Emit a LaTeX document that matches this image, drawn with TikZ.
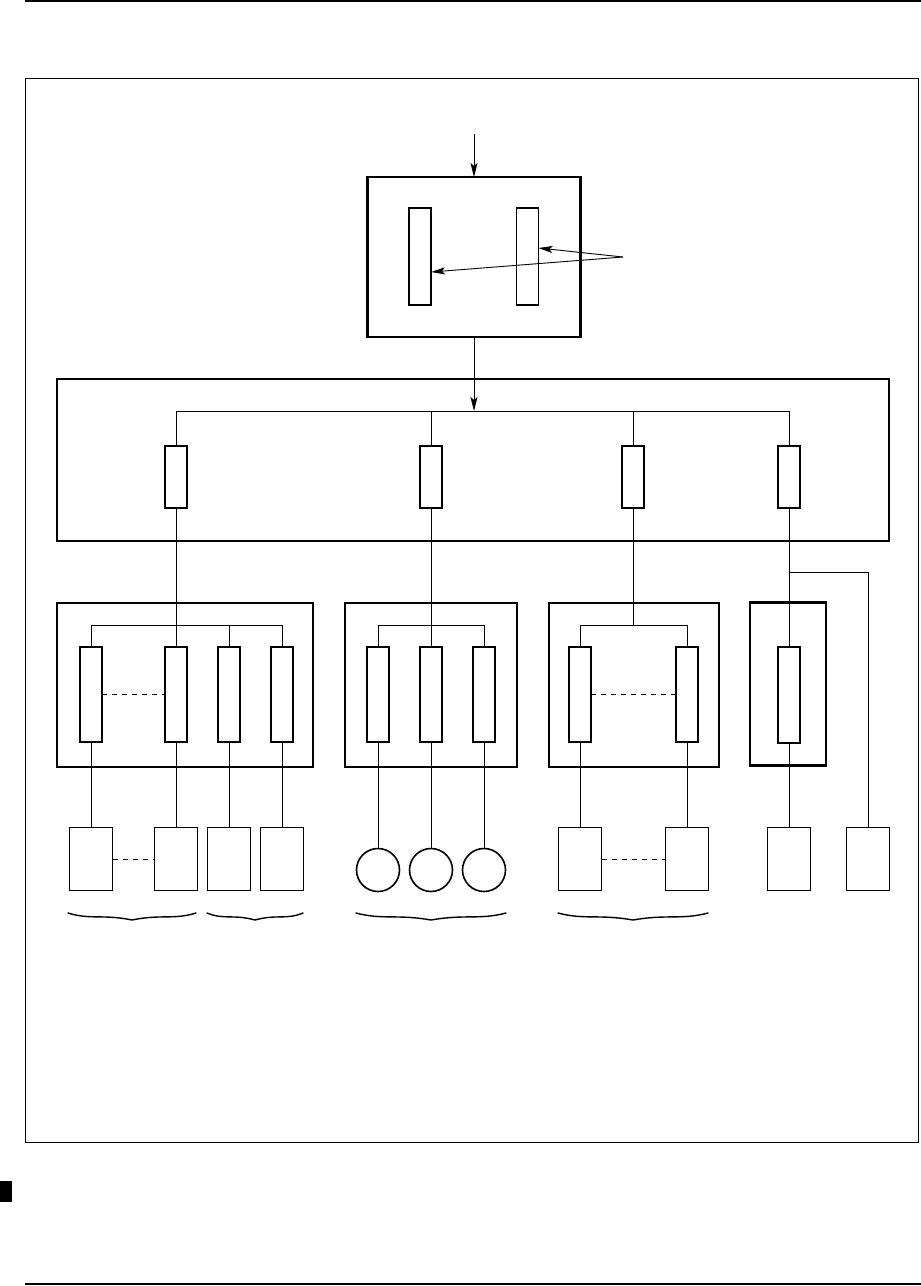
\documentclass[tikz,border=0pt]{standalone}
\usetikzlibrary{arrows.meta,calc}
\begin{document}
\begin{tikzpicture}[x=1pt,y=-1pt,
  frame/.style={draw,line width=2.2pt,inner sep=0,outer sep=0,rectangle},
  card/.style={draw,line width=1.2pt,inner sep=0,outer sep=0,rectangle,minimum width=22pt},
  dev/.style={draw,line width=1.6pt,inner sep=0,outer sep=0,rectangle,minimum width=43pt,minimum height=63pt},
  disc/.style={draw,line width=1.6pt,inner sep=0,outer sep=0,circle,minimum size=43pt},
  wire/.style={line width=0.9pt},
  dots/.style={line width=0.9pt,dash pattern=on 5pt off 5pt},
  arr/.style={line width=0.9pt,-{Stealth[length=14pt,width=7pt,inset=3pt]}},
  curly/.style={line width=1.4pt,line cap=round}]
\useasboundingbox (0,0) rectangle (921,1286);
% page rules and frame
\draw[line width=1.5pt] (25,1) coordinate (rl1) -- (921,1) coordinate (rr1);
\draw[line width=1.5pt] (25,1284) coordinate (rl2) -- (921,1284) coordinate (rr2);
\fill (0,1181) rectangle (12,1202);
\draw[line width=1pt] (25,78) rectangle (918,1142);
% top box
\node[frame,minimum width=213pt,minimum height=160pt] (top) at (474,257) {};
\node[card,minimum height=97pt] (T1) at (420,256.5) {};
\node[card,minimum height=97pt] (T2) at (527.5,256.5) {};
\coordinate (in) at (474,134);
\coordinate (ptr) at (623,257);
\coordinate (t2p) at (538.5,248);
\coordinate (t1p) at (431,272);
\draw[arr] (in) -- (top.north);
\draw[arr] (ptr) -- (t2p);
\draw[arr] (ptr) -- (t1p);
% big box
\node[frame,minimum width=832pt,minimum height=162pt] (big) at (473,460) {};
\coordinate (busL) at (176,411);
\coordinate (busR) at (789,411);
\coordinate (busM) at (474,411);
\draw[arr] (top.south) -- (busM);
\draw[wire] (busL) -- (busR);
\foreach \n/\x in {A1/176,A2/431,A3/633,A4/789}{
  \node[card,minimum height=62pt] (\n) at (\x,477) {};
  \draw[wire] (\x,411) -- (\n.north);
}
% group boxes
\node[frame,minimum width=256pt,minimum height=164pt] (G1) at (185,685) {};
\node[frame,minimum width=172pt,minimum height=164pt] (G2) at (431,685) {};
\node[frame,minimum width=170pt,minimum height=164pt] (G3) at (634,685) {};
\node[frame,minimum width=76pt,minimum height=163pt] (G4) at (788,684) {};
% group 1
\foreach \n/\x in {B1/91,B2/176,B3/229,B4/282}{
  \node[card,minimum height=95pt] (\n) at (\x,694.5) {};
  \draw[wire] (\x,625) -- (\n.north);
}
\draw[wire] (91,625) -- (282,625);
\draw[wire] (A1.south) -- (B2.north);
\draw[dots] (B1.east) -- (B2.west);
% group 2
\foreach \n/\x in {C1/378,C2/431,C3/484}{
  \node[card,minimum height=95pt] (\n) at (\x,694.5) {};
  \draw[wire] (\x,625) -- (\n.north);
}
\draw[wire] (378,625) -- (484,625);
\draw[wire] (A2.south) -- (C2.north);
% group 3
\foreach \n/\x in {E1/580,E2/687}{
  \node[card,minimum height=95pt] (\n) at (\x,694.5) {};
  \draw[wire] (\x,625) -- (\n.north);
}
\draw[wire] (580,625) -- (687,625);
\coordinate (b3) at (633,625);
\draw[wire] (A3.south) -- (b3);
\draw[dots] (E1.east) -- (E2.west);
% group 4
\node[card,minimum height=96pt] (F1) at (789,695) {};
\draw[wire] (A4.south) -- (F1.north);
% devices
\foreach \n/\x in {D1/91,D2/176,D3/229,D4/282,D5/580,D6/687,D7/789,D8/868}{
  \node[dev] (\n) at (\x,859) {};
}
\foreach \n/\x in {R1/378,R2/431,R3/484}{
  \node[disc] (\n) at (\x,870) {};
}
\foreach \a/\b in {B1/D1,B2/D2,B3/D3,B4/D4,C1/R1,C2/R2,C3/R3,E1/D5,E2/D6,F1/D7}{
  \draw[wire] (\a.south) -- (\b.north);
}
\draw[dots] (D1.east) -- (D2.west);
\draw[dots] (D5.east) -- (D6.west);
\coordinate (k1) at (789,572);
\coordinate (k2) at (868,572);
\draw[wire] (k1) -- (k2) -- (D8.north);
% braces (tip pointing down)
\foreach \a/\b in {68/196,207/303,356/506,558/708}{
  \pgfmathsetmacro{\m}{(\a+\b)/2}
  \pgfmathsetmacro{\h}{(\b-\a)/2}
  \draw[curly] (\a,913) .. controls ({\a+0.35*\h},920) and ({\m-0.45*\h},914) .. (\m,920)
               .. controls ({\m+0.45*\h},914) and ({\b-0.35*\h},920) .. (\b,913);
}
\end{tikzpicture}
\end{document}
